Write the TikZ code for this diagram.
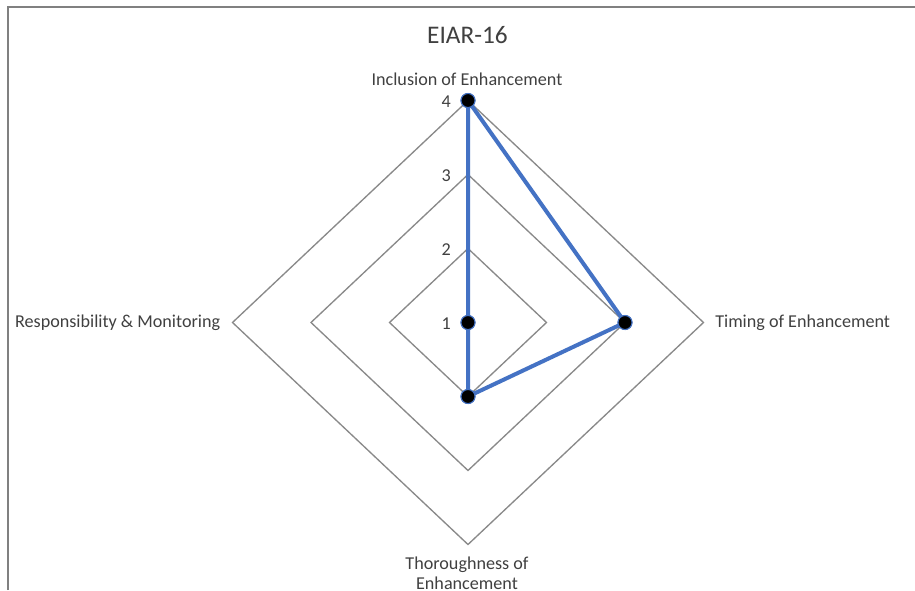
\documentclass[tikz,border=0pt]{standalone}
\usepackage{fontspec}
\setmainfont{Carlito}
\usetikzlibrary{calc}
\definecolor{gridgray}{RGB}{137,137,137}
\definecolor{framegray}{RGB}{128,128,128}
\definecolor{seriesblue}{RGB}{68,114,196}
\definecolor{labeltext}{RGB}{64,64,64}
\begin{document}
\begin{tikzpicture}[x=0.75pt,y=-0.75pt,
  gridline/.style={draw=gridgray,line width=1pt,line join=miter},
  series/.style={draw=seriesblue,line width=3pt,line join=round},
  marker/.style={circle,fill=black,draw=seriesblue,line width=0.8pt,inner sep=0pt,minimum size=10.5pt},
  axislabel/.style={text=labeltext,font=\fontsize{13.6}{14.5}\selectfont,inner sep=0pt},
  ticklabel/.style={text=labeltext,font=\fontsize{13.6}{14.5}\selectfont,inner sep=0pt,anchor=east},
  charttitle/.style={text=labeltext,font=\fontsize{19}{22}\selectfont,inner sep=0pt}]
\useasboundingbox (0,0) rectangle (915,590);
\fill[white] (0,0) rectangle (915,590);
% chart frame (top and left edges)
\draw[framegray,line width=1.2pt] (7.7,590) -- (7.7,6.8) -- (915,6.8);

% centre and per-level spacing of the radar axes
\coordinate (c) at (468,322.5);
\def\hx{78.5}
\def\vy{74}

% grid diamonds for values 2, 3, 4
\foreach \k in {1,2,3}{
  \draw[gridline] ($(c)+(0,-\k*\vy)$) -- ($(c)+(\k*\hx,0)$) -- ($(c)+(0,\k*\vy)$) -- ($(c)+(-\k*\hx,0)$) -- cycle;
}

% value ticks on the vertical axis
\node[ticklabel] (t1) at (451,323.5) {1};
\node[ticklabel] (t2) at (451,249.5) {2};
\node[ticklabel] (t3) at (451,175.5) {3};
\node[ticklabel] (t4) at (451,101.5) {4};

% data points
\node[marker] (pinc) at ($(c)+(0,-3*\vy)$) {};
\node[marker] (ptim) at ($(c)+(2*\hx,0)$) {};
\node[marker] (ptho) at ($(c)+(0,1*\vy)$) {};
\node[marker] (pres) at (c) {};

% series polygon
\draw[series] (pinc.center) -- (ptim.center) -- (ptho.center) -- (pres.center) -- cycle;
\foreach \p in {pinc,ptim,ptho,pres}{
  \node[marker] at (\p) {};
}

% axis labels
\node[axislabel,anchor=base] (linc) at (467,85.7) {Inclusion of Enhancement};
\node[axislabel,anchor=base west] (ltim) at (715,327.7) {Timing of Enhancement};
\node[axislabel,anchor=base east] (lres) at (220.5,327.7) {Responsibility \& Monitoring};
\node[axislabel,anchor=base,align=center] (ltho) at (467,589.3) {Thoroughness of\\Enhancement};

% title
\node[charttitle,anchor=base] (title) at (467.5,43.3) {EIAR-16};
\end{tikzpicture}
\end{document}
